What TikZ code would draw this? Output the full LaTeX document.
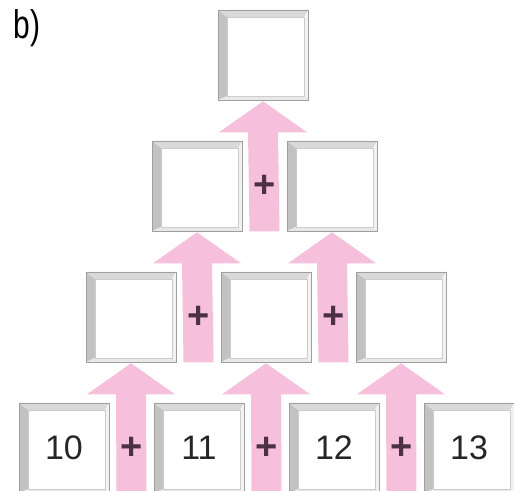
\documentclass[tikz,border=0pt]{standalone}
\usepackage{fontspec}
\setmainfont{Liberation Sans}
\usetikzlibrary{calc,backgrounds}

\definecolor{arrowpink}{RGB}{246,192,220}
\definecolor{plusink}{RGB}{75,48,70}

\tikzset{
  cell/.style={draw=gray!75, line width=0.6pt, fill=white, minimum size=90pt,
    inner sep=0pt, text=black!85, font=\fontsize{34}{34}\selectfont,
    path picture={
      \coordinate (bsw) at (path picture bounding box.south west);
      \coordinate (bnw) at (path picture bounding box.north west);
      \coordinate (bne) at (path picture bounding box.north east);
      \coordinate (bse) at (path picture bounding box.south east);
      \fill[gray!48] (bsw) -- (bnw) -- ([shift={(9pt,-7pt)}]bnw) -- ([shift={(9pt,4pt)}]bsw) -- cycle;
      \fill[gray!30] (bnw) -- (bne) -- ([shift={(-4pt,-7pt)}]bne) -- ([shift={(9pt,-7pt)}]bnw) -- cycle;
      \fill[gray!10] (bne) -- (bse) -- ([shift={(-4pt,4pt)}]bse) -- ([shift={(-4pt,-7pt)}]bne) -- cycle;
      \fill[gray!18] (bse) -- (bsw) -- ([shift={(9pt,4pt)}]bsw) -- ([shift={(-4pt,4pt)}]bse) -- cycle;
      \draw[gray!40, line width=0.4pt] ([shift={(9pt,4pt)}]bsw) rectangle ([shift={(-4pt,-7pt)}]bne);
    }},
  plussign/.style={text=plusink, inner sep=0pt, font=\bfseries\fontsize{38}{38}\selectfont},
}

% arrow from the gap between #1 and #2 up to #3, with a plus in the gap
\newcommand{\sumarrow}[3]{
  \coordinate (foot) at ($(#1.south east)!0.5!(#2.south west)$);
  \coordinate (tip) at ([yshift=-1pt]#3.south);
  \begin{scope}[on background layer]
    \fill[arrowpink] ([xshift=-15pt]foot) -- ([xshift=-15pt,yshift=-31pt]tip)
      -- ([xshift=-44pt,yshift=-31pt]tip) -- (tip) -- ([xshift=44pt,yshift=-31pt]tip)
      -- ([xshift=15pt,yshift=-31pt]tip) -- ([xshift=15pt]foot) -- cycle;
  \end{scope}
  \node[plussign] at ($(#1.east)!0.5!(#2.west)$) {+};
}

\begin{document}
\begin{tikzpicture}[x=1pt,y=1pt]
  \useasboundingbox (0,0) rectangle (514,490);
  \node[font=\fontsize{40}{40}\selectfont, xscale=0.75, transform shape] (tag) at (27,462) {b)};
  % pyramid of boxes, row 0 at the bottom
  \node[cell] (c00) at (64,42)  {10};
  \node[cell] (c01) at (199,42) {11};
  \node[cell] (c02) at (334,42) {12};
  \node[cell] (c03) at (469,42) {13};
  \foreach \i in {0,1,2} \node[cell] (c1\i) at (131+135*\i,173) {};
  \foreach \i in {0,1}   \node[cell] (c2\i) at (197+135*\i,304) {};
  \node[cell] (c30) at (263,435) {};
  % sums
  \sumarrow{c00}{c01}{c10}
  \sumarrow{c01}{c02}{c11}
  \sumarrow{c02}{c03}{c12}
  \sumarrow{c10}{c11}{c20}
  \sumarrow{c11}{c12}{c21}
  \sumarrow{c20}{c21}{c30}
\end{tikzpicture}
\end{document}
